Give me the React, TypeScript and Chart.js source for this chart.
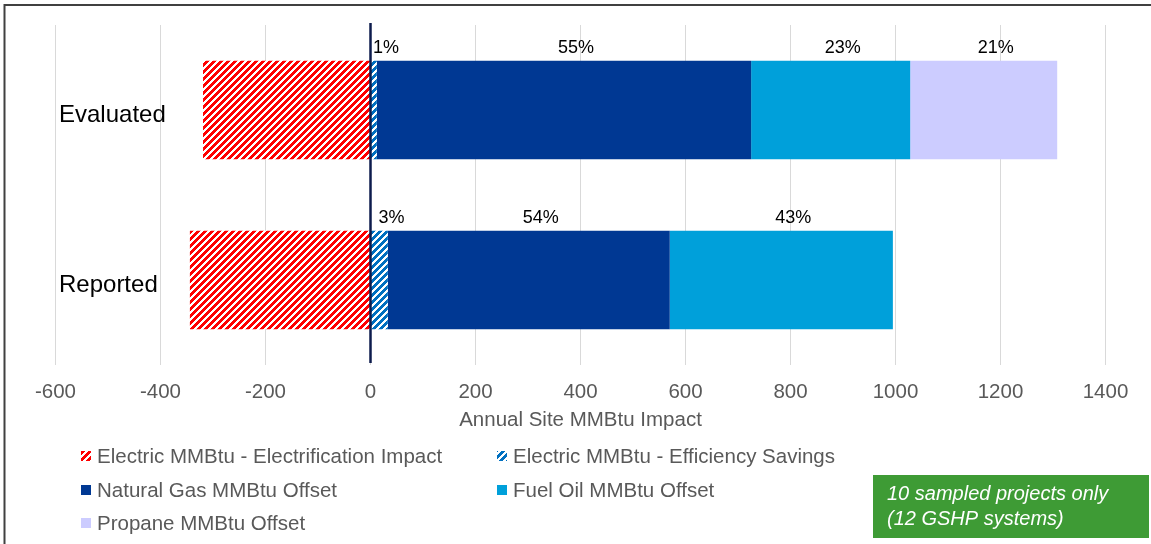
import React, { useEffect, useRef } from "react";
import { Chart, registerables } from "chart.js";

Chart.register(...registerables);

// ---- Data ----
const categories = ["Evaluated", "Reported"];
const electrificationImpact = [-319, -344];
const efficiencySavings = [12, 33];
const naturalGasOffset = [713, 537];
const fuelOilOffset = [303, 425];
const propaneOffset = [280, 0];

const efficiencyPct = ["1%", "3%"];
const naturalGasPct = ["55%", "54%"];
const fuelOilPct = ["23%", "43%"];
const propanePct = ["21%", ""];

const xMin = -600;
const xMax = 1400;
const xStep = 200;

const seriesNames = [
  "Electric MMBtu - Electrification Impact",
  "Electric MMBtu - Efficiency Savings",
  "Natural Gas MMBtu Offset",
  "Fuel Oil MMBtu Offset",
  "Propane MMBtu Offset",
];
const axisTitle = "Annual Site MMBtu Impact";
const noteLines = ["10 sampled projects only", "(12 GSHP systems)"];

const FONT = "'Liberation Sans', Arial, sans-serif";

function makeHatch(color: string): CanvasPattern {
  const c = document.createElement("canvas");
  c.width = 7;
  c.height = 7;
  const g = c.getContext("2d")!;
  g.fillStyle = "#ffffff";
  g.fillRect(0, 0, 7, 7);
  g.fillStyle = color;
  for (let y = 0; y < 7; y++) {
    for (let x = 0; x < 7; x++) {
      if ((x + y) % 7 < 4) g.fillRect(x, y, 1, 1);
    }
  }
  return g.createPattern(c, "repeat")!;
}

export default function App() {
  const ref = useRef<HTMLCanvasElement | null>(null);

  useEffect(() => {
    if (!ref.current) return;
    const redHatch = makeHatch("#ff0000");
    const blueHatch = makeHatch("#0070c0");

    const pctLabels: (string[] | null)[] = [null, efficiencyPct, naturalGasPct, fuelOilPct, propanePct];

    const overlay = {
      id: "overlay",
      beforeDraw(chart: any) {
        const ctx = chart.ctx;
        ctx.save();
        ctx.fillStyle = "#ffffff";
        ctx.fillRect(0, 0, chart.width, chart.height);
        ctx.strokeStyle = "#404040";
        ctx.lineWidth = 2;
        ctx.beginPath();
        ctx.moveTo(4.5, 600);
        ctx.lineTo(4.5, 5);
        ctx.lineTo(1151, 5);
        ctx.stroke();
        ctx.restore();
      },
      afterDatasetsDraw(chart: any) {
        const ctx = chart.ctx;
        const xs = chart.scales.x;
        const area = chart.chartArea;
        ctx.save();
        // zero line
        const x0 = xs.getPixelForValue(0);
        ctx.strokeStyle = "#0d1b4c";
        ctx.lineWidth = 2.5;
        ctx.beginPath();
        ctx.moveTo(x0, area.top - 2);
        ctx.lineTo(x0, area.bottom - 2);
        ctx.stroke();
        // percent labels
        ctx.fillStyle = "#000000";
        ctx.font = `18px ${FONT}`;
        ctx.textAlign = "center";
        ctx.textBaseline = "middle";
        chart.data.datasets.forEach((ds: any, i: number) => {
          const labels = pctLabels[i];
          if (!labels) return;
          const meta = chart.getDatasetMeta(i);
          meta.data.forEach((el: any, j: number) => {
            const t = labels[j];
            if (!t) return;
            const cx = (el.x + el.base) / 2 + 12;
            const top = el.y - el.height / 2;
            ctx.fillText(t, cx, top - 13);
          });
        });
        ctx.restore();
      },
      afterDraw(chart: any) {
        const ctx = chart.ctx;
        ctx.save();
        // legend
        const colX = [81, 497];
        const rowY = [456, 490, 523];
        ctx.font = `20.5px ${FONT}`;
        ctx.textAlign = "left";
        ctx.textBaseline = "middle";
        chart.data.datasets.forEach((ds: any, i: number) => {
          const x = colX[i % 2];
          const y = rowY[Math.floor(i / 2)];
          ctx.fillStyle = ds.backgroundColor;
          ctx.fillRect(x, y - 5, 10, 10);
          ctx.fillStyle = "#595959";
          ctx.fillText(ds.label, x + 16, y + 1);
        });
        // note box
        ctx.fillStyle = "#3e9b35";
        ctx.fillRect(873, 475, 276, 63);
        ctx.fillStyle = "#ffffff";
        ctx.font = `italic 20px ${FONT}`;
        ctx.fillText(noteLines[0], 887, 494);
        ctx.fillText(noteLines[1], 887, 519);
        ctx.restore();
      },
    };

    const chart = new Chart(ref.current, {
      type: "bar",
      data: {
        labels: categories,
        datasets: [
          { label: seriesNames[0], data: electrificationImpact, backgroundColor: redHatch as any },
          { label: seriesNames[1], data: efficiencySavings, backgroundColor: blueHatch as any },
          { label: seriesNames[2], data: naturalGasOffset, backgroundColor: "#003893" },
          { label: seriesNames[3], data: fuelOilOffset, backgroundColor: "#00a0da" },
          { label: seriesNames[4], data: propaneOffset, backgroundColor: "#ccccff" },
        ],
      },
      options: {
        indexAxis: "y",
        responsive: false,
        animation: false,
        layout: { padding: { left: 55.5, right: 45.5, top: 25, bottom: 111 } },
        datasets: { bar: { barPercentage: 1, categoryPercentage: 0.58, borderWidth: 0 } },
        plugins: { legend: { display: false }, tooltip: { enabled: false } },
        scales: {
          x: {
            stacked: true,
            min: xMin,
            max: xMax,
            ticks: {
              stepSize: xStep,
              color: "#595959",
              font: { family: FONT, size: 20.5 },
              padding: 15,
              callback: (v: any) => String(v),
            },
            grid: { color: "#d9d9d9", lineWidth: 1, drawTicks: false },
            border: { display: false },
            title: {
              display: true,
              text: axisTitle,
              color: "#595959",
              font: { family: FONT, size: 20.5 },
              padding: { top: 0, bottom: 0 },
            },
            afterFit(scale: any) {
              scale.height = 68;
            },
          },
          y: {
            stacked: true,
            ticks: {
              mirror: true,
              padding: 3.5,
              labelOffset: 5,
              color: "#000000",
              font: { family: FONT, size: 24 },
            },
            grid: { display: false, drawTicks: false },
            border: { display: false },
            afterFit(scale: any) {
              scale.width = 0;
            },
          },
        },
      },
      plugins: [overlay],
    } as any);

    return () => chart.destroy();
  }, []);

  return (
    <canvas
      ref={ref}
      width={1151}
      height={544}
      style={{ position: "absolute", left: 0, top: 0, width: 1151, height: 544 }}
    />
  );
}
